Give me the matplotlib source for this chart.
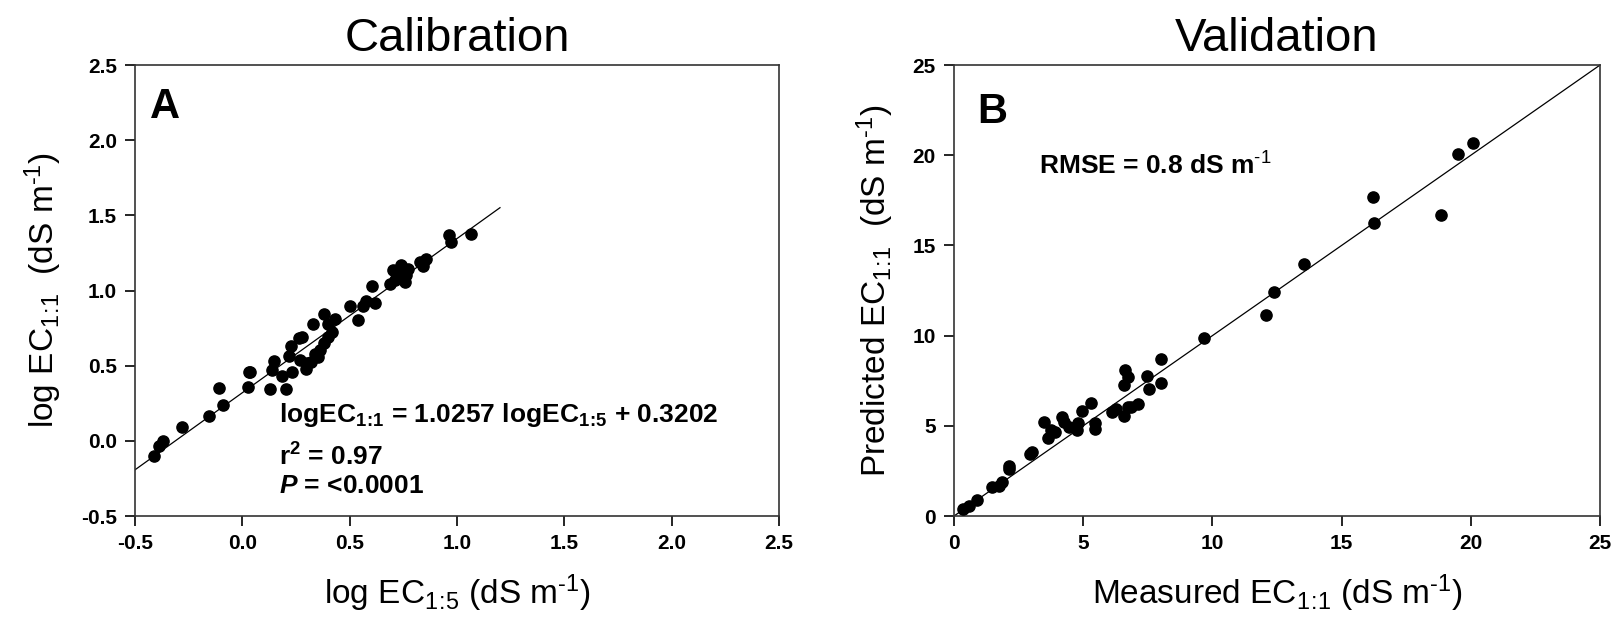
import numpy as np
import matplotlib
matplotlib.use("Agg")
import matplotlib.pyplot as plt

plt.rcParams['font.family'] = ['Liberation Sans', 'DejaVu Sans']
plt.rcParams['mathtext.fontset'] = 'custom'
plt.rcParams['mathtext.rm'] = 'Liberation Sans'
plt.rcParams['mathtext.bf'] = 'Liberation Sans:bold'
plt.rcParams['mathtext.it'] = 'Liberation Sans:bold:italic'

# Calibration data: log EC 1:5 vs log EC 1:1
cal_x = [-0.411, -0.388, -0.368, -0.283, -0.155, -0.088, -0.109, 0.025, 0.030, 0.036,
         0.131, 0.204, 0.146, 0.140, 0.185, 0.229, 0.216, 0.226, 0.263, 0.279,
         0.269, 0.295, 0.318, 0.338, 0.361, 0.381, 0.397, 0.417, 0.397, 0.381,
         0.432, 0.330, 0.502, 0.539, 0.561, 0.575, 0.618, 0.606, 0.689, 0.713,
         0.703, 0.738, 0.732, 0.756, 0.772, 0.762, 0.827, 0.841, 0.857, 0.964,
         0.970, 1.064, 0.720, 0.745, 0.300, 0.350]
cal_y = [-0.100, -0.033, 0.000, 0.089, 0.162, 0.240, 0.349, 0.355, 0.456, 0.456,
         0.344, 0.344, 0.529, 0.470, 0.433, 0.460, 0.562, 0.629, 0.685, 0.694,
         0.540, 0.478, 0.522, 0.578, 0.604, 0.649, 0.689, 0.722, 0.778, 0.844,
         0.811, 0.778, 0.896, 0.807, 0.896, 0.929, 0.918, 1.027, 1.044, 1.067,
         1.138, 1.173, 1.111, 1.056, 1.144, 1.100, 1.189, 1.160, 1.207, 1.367,
         1.322, 1.373, 1.090, 1.120, 0.520, 0.560]

# regression coefficients and fitted range
slope = 1.0257
intercept = 0.3202
fit_range = [-0.5, 1.2]

# Validation data: measured vs predicted EC 1:1
val_x = [0.36, 0.57, 0.87, 1.46, 1.73, 1.87, 2.12, 2.14, 2.94, 3.01,
         3.49, 3.64, 3.74, 3.90, 4.19, 4.26, 4.44, 4.76, 4.78, 4.97,
         5.29, 5.44, 5.44, 6.10, 6.27, 6.60, 6.72, 6.58, 6.58, 6.72,
         6.84, 7.13, 7.45, 7.56, 8.02, 8.00, 9.66, 12.07, 12.37, 13.55,
         16.20, 16.24, 18.86, 19.52, 20.09]
val_y = [0.37, 0.56, 0.89, 1.61, 1.67, 1.91, 2.59, 2.78, 3.43, 3.57,
         5.22, 4.30, 4.76, 4.63, 5.50, 5.19, 4.91, 4.78, 5.15, 5.80,
         6.26, 5.15, 4.81, 5.74, 5.96, 8.11, 7.69, 7.28, 5.52, 6.02,
         6.06, 6.20, 7.74, 7.04, 8.70, 7.37, 9.87, 11.15, 12.41, 13.98,
         17.69, 16.26, 16.67, 20.09, 20.70]

one_to_one = [0, 25]

fig = plt.figure(figsize=(16.17, 6.26), dpi=100)
ax1 = fig.add_axes([0.0835, 0.1757, 0.3983, 0.7204])
ax2 = fig.add_axes([0.590, 0.1757, 0.3995, 0.7204])

for ax in (ax1, ax2):
    for s in ax.spines.values():
        s.set_linewidth(1.2)
        s.set_color('#333333')
    ax.tick_params(direction='out', length=7, width=1.2, labelsize=15, pad=6,
                   top=False, right=False)

# Panel A - calibration
ax1.scatter(cal_x, cal_y, s=65, color='black', zorder=3)
fx = np.array(fit_range)
ax1.plot(fx, slope * fx + intercept, color='black', lw=0.9)
ax1.set_xlim(-0.5, 2.5)
ax1.set_ylim(-0.5, 2.5)
ticks = np.arange(-0.5, 2.51, 0.5)
ax1.set_xticks(ticks)
ax1.set_yticks(ticks)
ax1.set_xticklabels([f'{t:.1f}' for t in ticks], fontweight='bold')
ax1.set_yticklabels([f'{t:.1f}' for t in ticks], fontweight='bold')
ax1.set_xlabel(r'log EC$_{1\!:\!5}$ (dS m$^{\text{-1}}$)', fontsize=24, labelpad=14)
ax1.set_ylabel(r'log EC$_{1\!:\!1}$  (dS m$^{\text{-1}}$)', fontsize=24, labelpad=12)
ax1.set_title('Calibration', fontsize=34, pad=10)
ax1.text(-0.43, 2.22, 'A', fontsize=30, fontweight='bold', va='center')
ax1.text(0.17, 0.17,
         r'logEC$_{\mathbf{1\!:\!1}}$ = 1.0257 logEC$_{\mathbf{1\!:\!5}}$ + 0.3202',
         fontsize=19, fontweight='bold', va='center')
ax1.text(0.17, -0.11, r'r$^{\mathbf{2}}$ = 0.97', fontsize=19, fontweight='bold', va='center')
ax1.text(0.17, -0.30, r'$\mathit{P}$ = <0.0001', fontsize=19, fontweight='bold', va='center')

# Panel B - validation
ax2.scatter(val_x, val_y, s=65, color='black', zorder=3)
ax2.plot(one_to_one, one_to_one, color='black', lw=0.9)
ax2.set_xlim(0, 25)
ax2.set_ylim(0, 25)
ax2.set_xticks(range(0, 26, 5))
ax2.set_yticks(range(0, 26, 5))
ax2.set_xticklabels([str(t) for t in range(0, 26, 5)], fontweight='bold')
ax2.set_yticklabels([str(t) for t in range(0, 26, 5)], fontweight='bold')
ax2.set_xlabel(r'Measured EC$_{1\!:\!1}$ (dS m$^{\text{-1}}$)', fontsize=24, labelpad=14)
ax2.set_ylabel(r'Predicted EC$_{1\!:\!1}$  (dS m$^{\text{-1}}$)', fontsize=24, labelpad=12)
ax2.set_title('Validation', fontsize=34, pad=10)
ax2.text(0.9, 22.4, 'B', fontsize=30, fontweight='bold', va='center')
ax2.text(3.3, 19.4, r'RMSE = 0.8 dS m$^{\mathbf{\text{-1}}}$', fontsize=19,
         fontweight='bold', va='center')

fig.savefig('out.png', dpi=100)
